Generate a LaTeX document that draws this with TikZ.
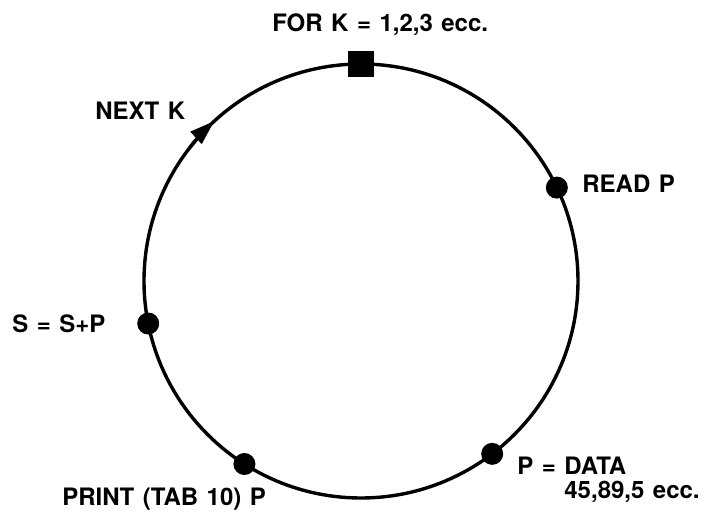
\documentclass[tikz,border=0pt]{standalone}
\usepackage{fontspec}
\setmainfont{TeX Gyre Heros}
\usepackage{tikz}
\usetikzlibrary{arrows.meta, positioning, calc}

\newcommand{\stmtfont}{\fontsize{24}{27}\selectfont\bfseries\spaceskip=8.5pt plus 2pt\relax}

\begin{document}
\begin{tikzpicture}[>=stealth, thick]

\tikzset{
    ring/.style={line width=3.4pt, draw=black},
    dotmark/.style={circle, fill=black, inner sep=0pt, minimum size=22pt},
    sqmark/.style={rectangle, fill=black, inner sep=0pt, minimum size=26pt},
    stmt/.style={inner sep=0pt, anchor=base west, font=\stmtfont}
}

\useasboundingbox (-361pt,-233pt) rectangle (357pt,281pt);

% ── 循环 ──
\draw[ring] (0,0) circle (217pt);
\draw[ring, -{Triangle[length=25pt, width=16pt]}] (142:217pt) arc (142:132.5:217pt);

% ── 标记 ──
\node[sqmark]  (forsq)  at (90:217pt)    {};
\node[dotmark] (readdt) at (25.5:217pt)  {};
\node[dotmark] (datadt) at (307.2:217pt) {};
\node[dotmark] (prntdt) at (237.5:217pt) {};
\node[dotmark] (sumdt)  at (191.3:217pt) {};

% ── 语句 ──
\node[stmt] (forlbl)  at (-89pt,249pt)  {FOR K = 1,2,3 ecc.};
\node[stmt] (nextlbl) at (-266pt,161pt) {NEXT K};
\node[stmt] (readlbl) at (221pt,88pt)   {READ P};
\node[stmt] (sumlbl)  at (-349pt,-52pt) {S = S+P};
\node[stmt] (prntlbl) at (-299pt,-224pt) {PRINT (TAB 10) P};
\node[stmt] (datalbl) at (156pt,-193pt) {P = DATA};
\node[stmt] (vallbl)  at (203pt,-217pt) {45,89,5 ecc.};

\end{tikzpicture}
\end{document}
